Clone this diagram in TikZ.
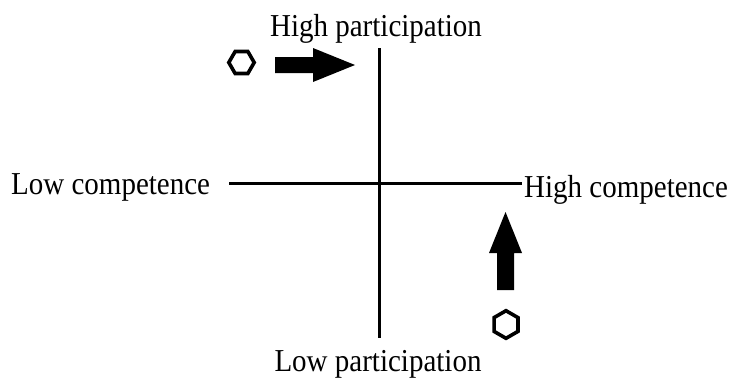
\documentclass[tikz,border=0pt]{standalone}
\usepackage{fontspec}
\setmainfont{Liberation Serif}
\usetikzlibrary{calc}
\begin{document}
\begin{tikzpicture}[x=1pt,y=-1pt,
  lbl/.style={inner sep=0pt,font=\fontsize{29}{30}\selectfont},
  axis/.style={line width=3pt},
  hexa/.style={line width=3.6pt,line join=miter},
  blockarrow/.style={fill=black,draw=none}]
\useasboundingbox (0,0) rectangle (730,378);
% texts
\node[lbl,anchor=base] (hp) at (376,36) {\scalebox{1}[1.1]{High participation}};
\node[lbl,anchor=base] (lp) at (378,371) {\scalebox{1}[1.1]{Low participation}};
\node[lbl,anchor=base west] (lc) at (11,194) {\scalebox{1}[1.1]{Low competence}};
\node[lbl,anchor=base west] (hc) at (524,197) {\scalebox{1}[1.1]{High competence}};
% axes
\coordinate (vtop) at (379,48);
\coordinate (vbot) at (379,338);
\coordinate (hl) at (229,183);
\coordinate (hr) at (522,183);
\draw[axis] (vtop) -- (vbot);
\draw[axis] (hl) -- (hr);
% top-left hexagon (flat top)
\coordinate (hexA) at (241.5,62.5);
\draw[hexa] ($(hexA)+(0:12.7)$) \foreach \a in {60,120,...,300} { -- ($(hexA)+(\a:12.7)$) } -- cycle;
% bottom-right hexagon (pointy top)
\coordinate (hexB) at (506,324.5);
\draw[hexa] ($(hexB)+(90:13.8)$) \foreach \a in {150,210,...,390} { -- ($(hexB)+(\a:13.8)$) } -- cycle;
% right arrow
\fill[blockarrow] (275,57) -- (313,57) -- (313,48) -- (355,65) -- (313,82) -- (313,73) -- (275,73) -- cycle;
% up arrow
\fill[blockarrow] (497,290) -- (497,253) -- (489,253) -- (505.5,212) -- (522,253) -- (514,253) -- (514,290) -- cycle;
\end{tikzpicture}
\end{document}
